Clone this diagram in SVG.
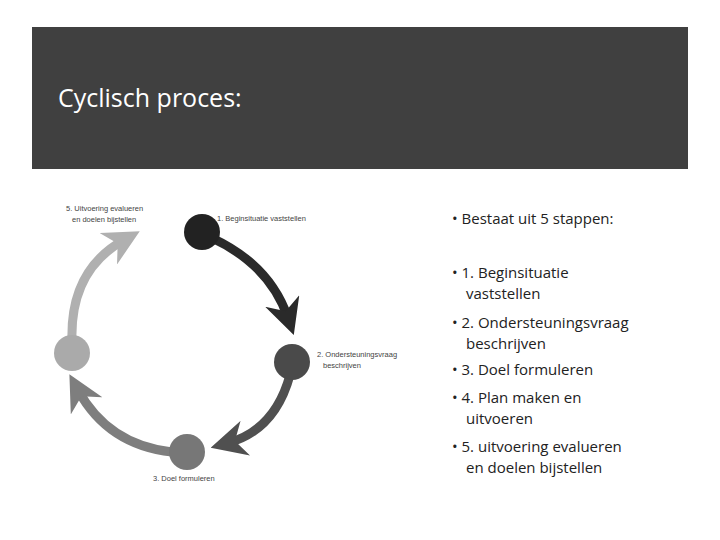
<svg xmlns="http://www.w3.org/2000/svg" width="720" height="540" viewBox="0 0 720 540">
<defs>
<style>
.lbl{font-family:"Liberation Sans",Arial,sans-serif;font-size:7.5px;fill:#444}
.bul{font-family:"Open Sans","Liberation Sans",sans-serif;font-size:15px;fill:#222}
.arr{fill:none;stroke-width:9}
</style>
<marker id="m1" viewBox="0 0 10 10" refX="5" refY="5" markerWidth="4" markerHeight="4" orient="auto" markerUnits="strokeWidth"><path d="M0,0 L10,5 L0,10 L3,5 Z" fill="#2a2a2a"/></marker>
<marker id="m2" viewBox="0 0 10 10" refX="5" refY="5" markerWidth="4" markerHeight="4" orient="auto" markerUnits="strokeWidth"><path d="M0,0 L10,5 L0,10 L3,5 Z" fill="#505050"/></marker>
<marker id="m3" viewBox="0 0 10 10" refX="5" refY="5" markerWidth="4" markerHeight="4" orient="auto" markerUnits="strokeWidth"><path d="M0,0 L10,5 L0,10 L3,5 Z" fill="#7e7e7e"/></marker>
<marker id="m4" viewBox="0 0 10 10" refX="5" refY="5" markerWidth="4" markerHeight="4" orient="auto" markerUnits="strokeWidth"><path d="M0,0 L10,5 L0,10 L3,5 Z" fill="#b0b0b0"/></marker>
</defs>
<rect width="720" height="540" fill="#fff"/>
<rect x="32" y="27" width="656" height="142" fill="#404040"/>
<text x="58" y="107" font-family="Open Sans,Liberation Sans,sans-serif" font-size="25" fill="#fff">Cyclisch proces:</text>
<g id="connectors">
<path class="arr" stroke="#2a2a2a" d="M212,238 Q270,265 288,318" marker-end="url(#m1)"/>
<path class="arr" stroke="#505050" d="M290,375 Q275,430 228,443" marker-end="url(#m2)"/>
<path class="arr" stroke="#7e7e7e" d="M172,452 Q108,445 78,390" marker-end="url(#m3)"/>
<path class="arr" stroke="#b0b0b0" d="M72,340 Q70,270 124,240" marker-end="url(#m4)"/>
</g>
<g id="n1"><circle cx="202" cy="232" r="18" fill="#222"/><text class="lbl" x="217" y="221">1. Beginsituatie vaststellen</text></g>
<g id="n2"><circle cx="292" cy="362" r="18" fill="#4a4a4a"/><text class="lbl" x="317" y="357">2. Ondersteuningsvraag</text><text class="lbl" x="323" y="368">beschrijven</text></g>
<g id="n3"><circle cx="187" cy="452" r="18" fill="#777"/><text class="lbl" x="153" y="481">3. Doel formuleren</text></g>
<g id="n4"><circle cx="72" cy="353" r="18" fill="#aaa"/><text class="lbl" x="66" y="211">5. Uitvoering evalueren</text><text class="lbl" x="72" y="222">en doelen bijstellen</text></g>
<g id="bullets" class="bul">
<text x="452" y="224">• Bestaat uit 5 stappen:</text>
<text x="452" y="278">• 1. Beginsituatie</text>
<text x="466" y="299">vaststellen</text>
<text x="452" y="328">• 2. Ondersteuningsvraag</text>
<text x="466" y="349">beschrijven</text>
<text x="452" y="375">• 3. Doel formuleren</text>
<text x="452" y="403">• 4. Plan maken en</text>
<text x="466" y="424">uitvoeren</text>
<text x="452" y="452">• 5. uitvoering evalueren</text>
<text x="466" y="473">en doelen bijstellen</text>
</g>
</svg>
